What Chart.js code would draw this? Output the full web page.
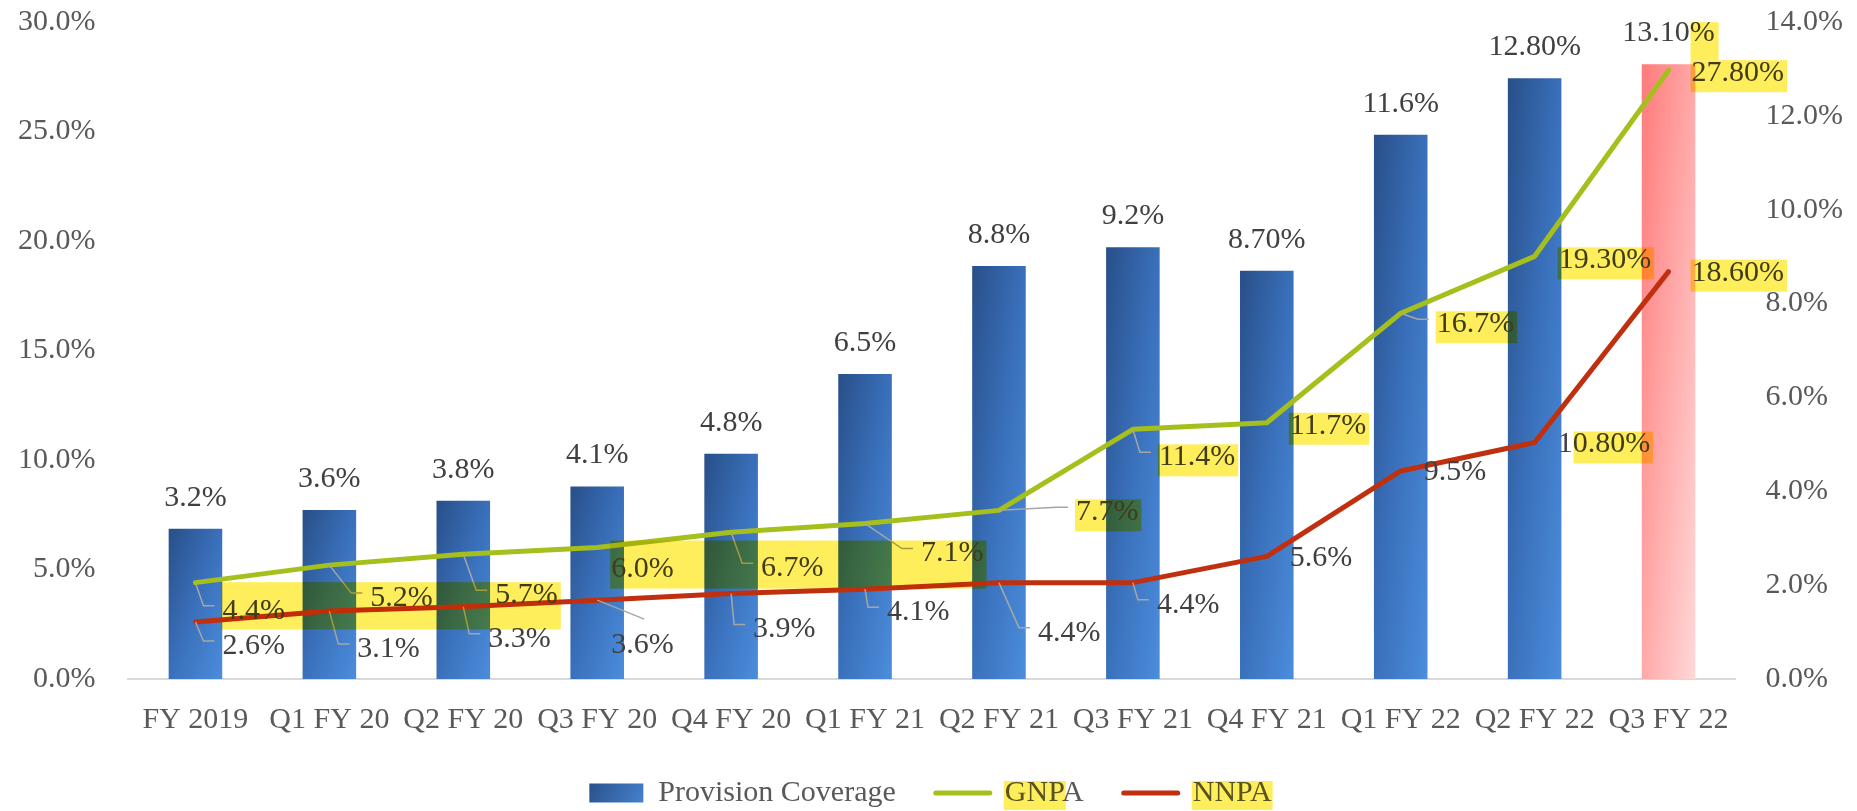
<!DOCTYPE html>
<html>
<head>
  <meta charset="UTF-8">
  <title>Provision Coverage, GNPA and NNPA</title>
  <script src="https://cdn.jsdelivr.net/npm/chart.js@4.4.1/dist/chart.umd.min.js"></script>
  <style>
    html, body { margin: 0; padding: 0; background: #ffffff; overflow: hidden; }
    #chartBox { width: 1857px; height: 811px; position: relative; }
  </style>
</head>
<body>
<div id="chartBox"><canvas id="myChart"></canvas></div>

<script>
  // ---- data ----
  var quarters = ['FY 2019', 'Q1 FY 20', 'Q2 FY 20', 'Q3 FY 20', 'Q4 FY 20', 'Q1 FY 21',
                  'Q2 FY 21', 'Q3 FY 21', 'Q4 FY 21', 'Q1 FY 22', 'Q2 FY 22', 'Q3 FY 22'];
  var provision    = [3.2, 3.6, 3.8, 4.1, 4.8, 6.5, 8.8, 9.2, 8.7, 11.6, 12.8, 13.1];
  var provisionDec = [1, 1, 1, 1, 1, 1, 1, 1, 2, 1, 2, 2];
  var gnpa    = [4.4, 5.2, 5.7, 6.0, 6.7, 7.1, 7.7, 11.4, 11.7, 16.7, 19.3, 27.8];
  var gnpaDec = [1, 1, 1, 1, 1, 1, 1, 1, 1, 1, 2, 2];
  var nnpa    = [2.6, 3.1, 3.3, 3.6, 3.9, 4.1, 4.4, 4.4, 5.6, 9.5, 10.8, 18.6];
  var nnpaDec = [1, 1, 1, 1, 1, 1, 1, 1, 1, 1, 2, 2];
  var leftTicks  = [0, 5, 10, 15, 20, 25, 30];
  var rightTicks = [0, 2, 4, 6, 8, 10, 12, 14];
  var focusQuarter = 'Q3 FY 22';

  // ---- label placement (dx, dy from the point, leader style) ----
  var gnpaPlace = [[27, 28, 1], [41, 33, 1], [32, 41, 1], [14, 22, 0], [30, 36, 1], [56, 30, 1],
                   [77, 2, 1], [26, 28, 1], [23, 3, 0], [36, 11, 1], [24, 4, 0], [23, 3, 0]];
  var nnpaPlace = [[27, 24, 1], [28, 38, 1], [25, 32, 1], [14, 45, 2], [22, 36, 1], [22, 23, 1],
                   [39, 50, 1], [24, 22, 1], [23, 2, 0], [23, 1, 0], [23, 2, 0], [23, 1, 0]];
  // yellow marker boxes over the labels
  var marks = [
    { s: 'gnpa', from: 0, to: 2 }, { s: 'gnpa', from: 3, to: 5 }, { s: 'gnpa', from: 6, to: 6 },
    { s: 'gnpa', from: 7, to: 7 }, { s: 'gnpa', from: 8, to: 8 }, { s: 'gnpa', from: 9, to: 9 },
    { s: 'gnpa', from: 10, to: 10 }, { s: 'gnpa', from: 11, to: 11, up: 38, upWidth: 28 },
    { s: 'nnpa', from: 10, to: 10, trim: 17 }, { s: 'nnpa', from: 11, to: 11 }
  ];

  var FONT = '"Liberation Serif", "Times New Roman", serif';
  var YELLOW = 'rgb(255, 238, 92)';

  function pct(v, d) { return v.toFixed(d) + '%'; }

  // diagonal gradient for one bar, built from the scales
  function barFill(c) {
    var chart = c.chart;
    var focus = quarters[c.dataIndex] === focusQuarter;
    if (c.type !== 'data' || !chart.chartArea) return focus ? '#ff9c9c' : '#3a6db4';
    var xs = chart.scales.x, ys = chart.scales.y1;
    var half = xs.width / quarters.length * 0.4 / 2;
    var cx = xs.getPixelForValue(c.dataIndex);
    var top = ys.getPixelForValue(provision[c.dataIndex]);
    var base = ys.getPixelForValue(0);
    var w = half * 2, h = Math.max(base - top, 1);
    var k = 2 * w * h / (w * w + h * h);
    var x0 = cx - half, y0 = top;
    var g = chart.ctx.createLinearGradient(x0, y0, x0 + h * k, y0 + w * k);
    if (focus) {
      g.addColorStop(0, '#ff7a7a');
      g.addColorStop(1, '#ffd8d8');
    } else {
      g.addColorStop(0, '#284f88');
      g.addColorStop(0.5, '#3a70bb');
      g.addColorStop(1, '#4b8ddd');
    }
    return g;
  }

  // chart.js counts tick padding twice in the axis size; keep it once
  function trimAxis(scale) {
    var pad = scale.options.ticks.padding;
    if (scale.isHorizontal()) {
      scale.height -= pad;
      scale.paddingLeft = 0;
      scale.paddingRight = 0;
    } else {
      scale.width -= pad;
      scale.paddingTop = 0;
      scale.paddingBottom = 0;
    }
  }

  var labelPlugin = {
    id: 'valueLabels',
    beforeDraw: function(chart) {
      var ctx = chart.ctx;
      ctx.save();
      ctx.fillStyle = '#ffffff';
      ctx.fillRect(0, 0, chart.width, chart.height);
      ctx.restore();
      // gradient swatch for the bar series in the legend
      var lg = chart.legend;
      if (lg && lg.legendHitBoxes && lg.legendHitBoxes[0]) {
        var hb = lg.legendHitBoxes[0];
        var g = ctx.createLinearGradient(hb.left, hb.top, hb.left + 54, hb.top + hb.height);
        g.addColorStop(0, '#284f88');
        g.addColorStop(1, '#4683d2');
        lg.legendItems[0].fillStyle = g;
      }
    },
    afterDatasetsDraw: function(chart) {
      var ctx = chart.ctx;
      ctx.save();
      ctx.font = '30px ' + FONT;
      ctx.textBaseline = 'middle';
      ctx.fillStyle = '#404040';

      // bar labels
      ctx.textAlign = 'center';
      chart.getDatasetMeta(0).data.forEach(function(bar, i) {
        ctx.fillText(pct(provision[i], provisionDec[i]), bar.x, bar.y - 31);
      });

      // line labels with leader lines
      ctx.textAlign = 'left';
      chart.$boxes = { gnpa: [], nnpa: [] };
      var series = [
        { key: 'gnpa', meta: 1, vals: gnpa, dec: gnpaDec, place: gnpaPlace },
        { key: 'nnpa', meta: 2, vals: nnpa, dec: nnpaDec, place: nnpaPlace }
      ];
      series.forEach(function(s) {
        chart.getDatasetMeta(s.meta).data.forEach(function(pt, i) {
          var p = s.place[i];
          var left = pt.x + p[0], cy = pt.y + p[1];
          var txt = pct(s.vals[i], s.dec[i]);
          var w = ctx.measureText(txt).width;
          if (p[2]) {
            ctx.beginPath();
            ctx.strokeStyle = '#a6a6a6';
            ctx.lineWidth = 1.5;
            ctx.moveTo(pt.x, pt.y);
            if (p[2] === 1) {
              ctx.lineTo(left - 19, cy - 5);
              ctx.lineTo(left - 8, cy - 5);
            } else {
              ctx.lineTo(left + 33, cy - 26);
            }
            ctx.stroke();
          }
          ctx.fillText(txt, left, cy);
          chart.$boxes[s.key][i] = { left: left, right: left + w, cy: cy };
        });
      });
      ctx.restore();
    },
    afterDraw: function(chart) {
      var ctx = chart.ctx;
      ctx.save();
      ctx.globalCompositeOperation = 'multiply';
      ctx.fillStyle = YELLOW;
      marks.forEach(function(m) {
        var list = chart.$boxes[m.s].slice(m.from, m.to + 1);
        var l = Math.min.apply(null, list.map(function(b) { return b.left; }));
        var r = Math.max.apply(null, list.map(function(b) { return b.right; }));
        var t = Math.min.apply(null, list.map(function(b) { return b.cy; })) - 13;
        var bt = Math.max.apply(null, list.map(function(b) { return b.cy; })) + 19;
        var x0 = l - 1 + (m.trim || 0);
        ctx.fillRect(x0, t, r + 3 - x0, bt - t);
        if (m.up) ctx.fillRect(l - 1, t - m.up, m.upWidth, m.up);
      });

      // marker on the legend texts
      var lg = chart.legend;
      if (lg && lg.legendHitBoxes) {
        ctx.font = '30px ' + FONT;
        var hb1 = lg.legendHitBoxes[1], hb2 = lg.legendHitBoxes[2];
        var tx1 = hb1.left + 54 + 15, tx2 = hb2.left + 54 + 15;
        var cy = hb1.top + hb1.height / 2;
        ctx.fillRect(tx1 - 1, cy - 12, ctx.measureText('GNP').width + 2, 29);
        ctx.fillRect(tx2 - 1, cy - 12, ctx.measureText('NNPA').width + 2, 29);
      }
      ctx.restore();
    }
  };

  var ctxEl = document.getElementById('myChart');
  new Chart(ctxEl, {
    type: 'bar',
    data: {
      labels: quarters,
      datasets: [
        {
          label: 'Provision Coverage',
          data: provision,
          yAxisID: 'y1',
          backgroundColor: barFill,
          borderWidth: 0,
          barPercentage: 0.4,
          categoryPercentage: 1.0,
          order: 1
        },
        {
          type: 'line',
          label: 'GNPA',
          data: gnpa,
          yAxisID: 'y',
          borderColor: '#a5bf1c',
          backgroundColor: '#a5bf1c',
          borderWidth: 5,
          borderCapStyle: 'round',
          borderJoinStyle: 'round',
          pointRadius: 0,
          tension: 0,
          order: 0
        },
        {
          type: 'line',
          label: 'NNPA',
          data: nnpa,
          yAxisID: 'y',
          borderColor: '#c0300f',
          backgroundColor: '#c0300f',
          borderWidth: 5,
          borderCapStyle: 'round',
          borderJoinStyle: 'round',
          pointRadius: 0,
          tension: 0,
          order: 0
        }
      ]
    },
    options: {
      responsive: true,
      maintainAspectRatio: false,
      animation: false,
      layout: { padding: { top: 22, left: 18, right: 14, bottom: -7 } },
      scales: {
        x: {
          grid: { display: false, drawTicks: false },
          border: { display: true, color: '#d9d9d9', width: 2 },
          afterFit: trimAxis,
          ticks: {
            color: '#595959', font: { family: FONT, size: 30 },
            padding: 23, autoSkip: false, maxRotation: 0, minRotation: 0
          }
        },
        y: {
          position: 'left',
          min: leftTicks[0], max: leftTicks[leftTicks.length - 1],
          grid: { display: false, drawTicks: false },
          border: { display: false },
          afterFit: trimAxis,
          ticks: {
            stepSize: leftTicks[1] - leftTicks[0],
            color: '#595959', font: { family: FONT, size: 30 }, padding: 33,
            callback: function(v) { return pct(v, 1); }
          }
        },
        y1: {
          position: 'right',
          min: rightTicks[0], max: rightTicks[rightTicks.length - 1],
          grid: { display: false, drawTicks: false },
          border: { display: false },
          afterFit: trimAxis,
          ticks: {
            stepSize: rightTicks[1] - rightTicks[0],
            color: '#595959', font: { family: FONT, size: 30 }, padding: 30,
            callback: function(v) { return pct(v, 1); }
          }
        }
      },
      plugins: {
        tooltip: { enabled: false },
        legend: {
          position: 'bottom',
          labels: {
            usePointStyle: true,
            pointStyleWidth: 54,
            boxHeight: 19,
            padding: 40,
            color: '#595959',
            font: { family: FONT, size: 30 },
            sort: function(a, b) { return a.datasetIndex - b.datasetIndex; },
            generateLabels: function(chart) {
              return chart.data.datasets.map(function(ds, i) {
                var isBar = i === 0;
                return {
                  text: ds.label,
                  datasetIndex: i,
                  fillStyle: isBar ? '#3568ad' : ds.borderColor,
                  strokeStyle: isBar ? '#3568ad' : ds.borderColor,
                  fontColor: '#595959',
                  lineWidth: isBar ? 0 : 5,
                  lineCap: 'round',
                  pointStyle: isBar ? 'rect' : 'line',
                  hidden: false
                };
              });
            }
          }
        }
      }
    },
    plugins: [labelPlugin]
  });
</script>
</body>
</html>
